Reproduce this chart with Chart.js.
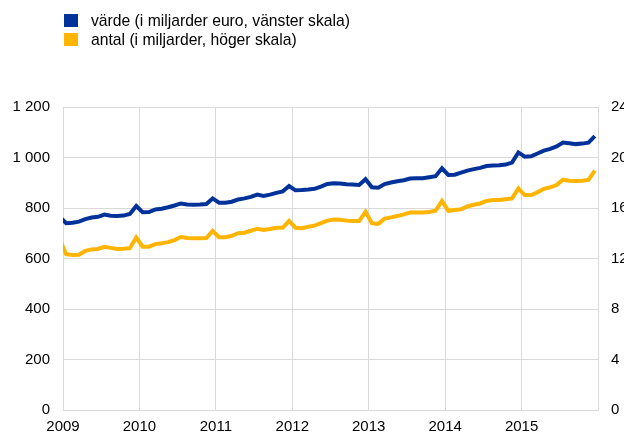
<!DOCTYPE html>
<html>
<head>
<meta charset="utf-8">
<script src="https://cdn.jsdelivr.net/npm/chart.js@4"></script>
<style>
  html, body { margin: 0; padding: 0; background: #fff; }
  #wrap { position: relative; width: 624px; height: 434px; overflow: hidden; }
  #legend { position: absolute; left: 64px; top: 11px; font: 15.7px "Liberation Sans", Arial, sans-serif; color: #000; }
  .item { height: 19px; display: flex; align-items: center; }
  .box { width: 14px; height: 13px; margin-right: 13px; }
</style>
</head>
<body>
<div id="wrap">
  <div id="legend"></div>
  <canvas id="chart" width="624" height="434"></canvas>
</div>
<script>
// monthly series, December 2008 to December 2015
const firstYear = 2008;
const firstMonth = 12;

const seriesNames = [
  'värde (i miljarder euro, vänster skala)',
  'antal (i miljarder, höger skala)'
];
const seriesColors = ['#003299', '#ffb400'];

// value of payments, EUR billions (left axis)
const varde = [
  764,
  740, 742, 746, 756, 762, 765, 774, 769, 768, 770, 776, 808,
  783, 784, 794, 797, 803, 810, 818, 814, 813, 814, 816, 838,
  821, 821, 825, 834, 838, 844, 853, 848, 853, 860, 866, 887,
  870, 871, 873, 876, 885, 895, 898, 897, 894, 893, 891, 914,
  882, 880, 895, 901, 906, 910, 917, 918, 918, 922, 926, 957,
  931, 932, 940, 948, 954, 959, 966, 968, 969, 972, 980, 1020,
  1003, 1005, 1016, 1027, 1034, 1044, 1059, 1056, 1053, 1055, 1059, 1085
];

// number of payments, billions (right axis)
const antal = [
  13.5,
  12.34, 12.28, 12.30, 12.60, 12.72, 12.76, 12.92, 12.84, 12.76, 12.78, 12.82, 13.66,
  12.94, 12.94, 13.14, 13.20, 13.30, 13.46, 13.70, 13.62, 13.60, 13.60, 13.62, 14.18,
  13.68, 13.68, 13.80, 14.00, 14.04, 14.20, 14.36, 14.26, 14.34, 14.44, 14.44, 14.98,
  14.44, 14.40, 14.52, 14.60, 14.80, 15.00, 15.08, 15.06, 15.00, 14.98, 14.98, 15.70,
  14.80, 14.74, 15.16, 15.26, 15.36, 15.50, 15.64, 15.64, 15.64, 15.68, 15.78, 16.56,
  15.78, 15.84, 15.90, 16.12, 16.26, 16.36, 16.56, 16.64, 16.64, 16.70, 16.76, 17.54,
  17.02, 17.02, 17.24, 17.52, 17.64, 17.82, 18.24, 18.16, 18.14, 18.16, 18.22, 18.96
];

const yearTicks = [2009, 2010, 2011, 2012, 2013, 2014, 2015];

// place each month in the middle of its slot on a year axis
function toPoints(values) {
  return values.map(function (v, i) {
    const m = firstMonth - 1 + i;
    return { x: firstYear + Math.floor(m / 12) + ((m % 12) + 0.5) / 12, y: v };
  });
}

// legend
const legend = document.getElementById('legend');
seriesNames.forEach(function (name, i) {
  const row = document.createElement('div');
  row.className = 'item';
  row.innerHTML = '<span class="box" style="background:' + seriesColors[i] + '"></span>' + name;
  legend.appendChild(row);
});

const font = { family: '"Liberation Sans", Arial, sans-serif', size: 15 };
const gridColor = '#d9d9d9';

new Chart(document.getElementById('chart'), {
  type: 'line',
  data: {
    datasets: [
      {
        label: seriesNames[0],
        data: toPoints(varde),
        yAxisID: 'y',
        borderColor: seriesColors[0],
        borderWidth: 4,
        pointRadius: 0,
        tension: 0,
        clip: 0
      },
      {
        label: seriesNames[1],
        data: toPoints(antal),
        yAxisID: 'y1',
        borderColor: seriesColors[1],
        borderWidth: 4,
        pointRadius: 0,
        tension: 0,
        clip: 0
      }
    ]
  },
  options: {
    responsive: false,
    animation: false,
    layout: { padding: { top: 107, left: 0, right: 0, bottom: 0 } },
    plugins: { legend: { display: false }, tooltip: { enabled: false } },
    scales: {
      x: {
        type: 'linear',
        min: 2009,
        max: 2016,
        afterBuildTicks: function (scale) {
          scale.ticks = yearTicks.concat([2016]).map(function (v) { return { value: v }; });
        },
        afterFit: function (scale) { scale.height = 24; },
        grid: { color: gridColor, drawTicks: false },
        border: { color: gridColor },
        ticks: {
          color: '#000',
          font: font,
          padding: 8,
          maxRotation: 0,
          callback: function (v) { return yearTicks.includes(v) ? String(v) : ''; }
        }
      },
      y: {
        position: 'left',
        min: 0,
        max: 1200,
        afterFit: function (scale) { scale.width = 63; },
        grid: { color: gridColor, drawTicks: false },
        border: { color: gridColor },
        ticks: {
          stepSize: 200,
          color: '#000',
          font: font,
          padding: 13,
          callback: function (v) { return String(v).replace(/\B(?=(\d{3})+(?!\d))/g, ' '); }
        }
      },
      y1: {
        position: 'right',
        min: 0,
        max: 24,
        afterFit: function (scale) { scale.width = 26; },
        grid: { display: false, drawTicks: false },
        border: { display: false },
        ticks: { stepSize: 4, color: '#000', font: font, padding: 13 }
      }
    }
  }
});
</script>
</body>
</html>
